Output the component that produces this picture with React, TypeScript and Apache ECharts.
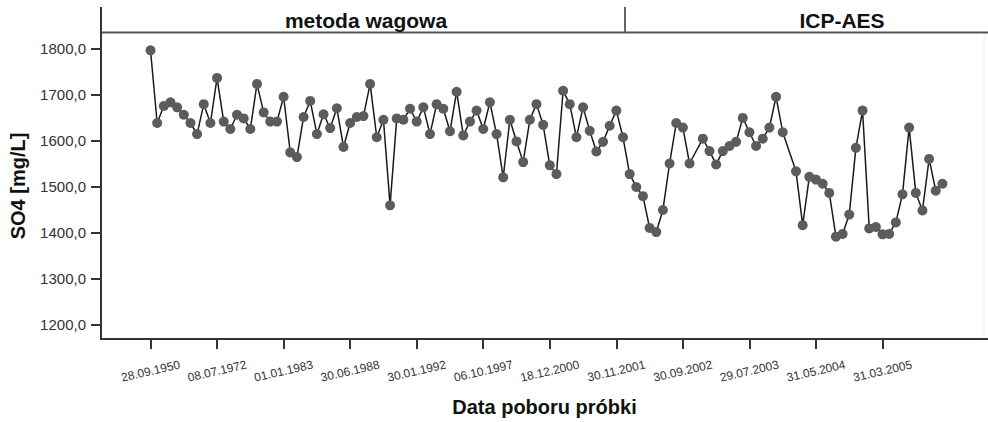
import React, { useEffect, useRef } from "react";
import * as echarts from "echarts";

// Tick labels of the category (sample date) axis, one every 10 samples
const tickDates: string[] = [
  "28.09.1950", "08.07.1972", "01.01.1983", "30.06.1988", "30.01.1992", "06.10.1997",
  "18.12.2000", "30.11.2001", "30.09.2002", "29.07.2003", "31.05.2004", "31.03.2005",
];
const tickIndices: number[] = [0, 10, 20, 30, 40, 50, 60, 70, 80, 90, 100, 110];

// SO4 concentration [mg/L] per sample (null = missing, line joined across)
const so4Values: (number | null)[] = [
  1796, 1638, 1675, 1683, 1672, 1656, 1638, 1614, 1679, 1638,
  1736, 1641, 1625, 1656, 1648, 1625, 1723, 1661, 1641, 1641,
  1695, 1574, 1564, 1651, 1686, 1614, 1657, 1627, 1670, 1586,
  1638, 1651, 1653, 1723, 1607, 1645, 1459, 1648, 1645, 1669,
  1641, 1672, 1614, 1679, 1669, 1620, 1706, 1611, 1641, 1665,
  1625, 1683, 1614, 1520, 1645, 1598, 1553, 1645, 1679, 1634,
  1546, 1527, 1708, 1679, 1607, 1672, 1621, 1576, 1597, 1632,
  1665, 1607, 1527, 1499, 1479, 1410, 1401, 1449, 1550, 1638,
  1628, 1550, null, 1604, 1577, 1548, 1577, 1588, 1597, 1649,
  1618, 1588, 1604, 1628, 1695, 1618, null, 1533, 1416, 1521,
  1515, 1506, 1486, 1391, 1397, 1439, 1584, 1665, 1409, 1412,
  1396, 1397, 1422, 1483, 1628, 1486, 1448, 1560, 1491, 1506,
];

const yTicks: number[] = [1200, 1300, 1400, 1500, 1600, 1700, 1800];
const sectionLabels: string[] = ["metoda wagowa", "ICP-AES"];
const sectionBoundaryIndex = 71.3;

const FONT = '"Liberation Sans", Arial, Helvetica, sans-serif';

export default function App() {
  const ref = useRef<HTMLDivElement>(null);

  useEffect(() => {
    const chart = echarts.init(ref.current!, null, { renderer: "svg" });
    const seriesData = so4Values.map((v, i) => [i, v]);

    chart.setOption({
      animation: false,
      backgroundColor: "#ffffff",
      grid: { left: 101, right: 0, top: 33, bottom: 82 },
      xAxis: {
        type: "value",
        min: -7.44,
        max: 125.85,
        name: "Data poboru próbki",
        nameLocation: "middle",
        nameGap: 58,
        nameTextStyle: { fontFamily: FONT, fontWeight: "bold", fontSize: 20, color: "#111" },
        axisLine: { show: true, onZero: false, lineStyle: { color: "#333", width: 2 } },
        axisTick: { show: true, customValues: tickIndices, length: 10, lineStyle: { color: "#333", width: 2 } },
        axisLabel: {
          customValues: tickIndices,
          formatter: (v: number) => {
            const k = tickIndices.indexOf(Math.round(v));
            return k >= 0 ? tickDates[k] : "";
          },
          rotate: 13,
          align: "center",
          verticalAlign: "middle",
          margin: 32,
          fontFamily: FONT,
          fontSize: 12,
          color: "#333",
        },
        splitLine: { show: false },
      },
      yAxis: {
        type: "value",
        min: 1168.6,
        max: 1833.6,
        name: "SO4 [mg/L]",
        nameLocation: "middle",
        nameRotate: 90,
        nameGap: 73,
        nameTextStyle: { fontFamily: FONT, fontWeight: "bold", fontSize: 20, color: "#111" },
        axisLine: { show: true, onZero: false, lineStyle: { color: "#333", width: 2 } },
        axisTick: { show: true, customValues: yTicks, length: 10, lineStyle: { color: "#333", width: 2 } },
        axisLabel: {
          customValues: yTicks,
          formatter: (v: number) => v.toFixed(1).replace(".", ","),
          margin: 15,
          fontFamily: FONT,
          fontSize: 15,
          color: "#333",
        },
        splitLine: { show: false },
      },
      series: [
        {
          type: "line",
          data: seriesData,
          connectNulls: true,
          symbol: "circle",
          symbolSize: 10,
          itemStyle: { color: "#5c5c5c", borderWidth: 0 },
          lineStyle: { color: "#1a1a1a", width: 1.5 },
          z: 3,
        },
      ],
    });

    const bx = chart.convertToPixel({ xAxisIndex: 0 }, sectionBoundaryIndex) as number;

    chart.setOption({
      graphic: [
        { type: "line", shape: { x1: 101, y1: 7, x2: 101, y2: 34 }, style: { stroke: "#333", lineWidth: 2 } },
        { type: "line", shape: { x1: 101, y1: 32.5, x2: 988, y2: 32.5 }, style: { stroke: "#555", lineWidth: 2 } },
        { type: "line", shape: { x1: bx, y1: 7, x2: bx, y2: 32.5 }, style: { stroke: "#666", lineWidth: 2 } },
        { type: "line", shape: { x1: 984, y1: 34, x2: 984, y2: 339 }, style: { stroke: "#ececec", lineWidth: 1 } },
        {
          type: "text",
          x: 366,
          y: 20,
          style: {
            text: sectionLabels[0],
            fill: "#111",
            font: `bold 21px ${FONT}`,
            textAlign: "center",
            textVerticalAlign: "middle",
            align: "center",
            verticalAlign: "middle",
          },
        },
        {
          type: "text",
          x: 842,
          y: 20,
          style: {
            text: sectionLabels[1],
            fill: "#111",
            font: `bold 21px ${FONT}`,
            textAlign: "center",
            textVerticalAlign: "middle",
            align: "center",
            verticalAlign: "middle",
          },
        },
      ],
    });

    return () => chart.dispose();
  }, []);

  return (
    <div
      ref={ref}
      style={{ position: "fixed", left: 0, top: 0, width: 988, height: 422, background: "#fff" }}
    />
  );
}
